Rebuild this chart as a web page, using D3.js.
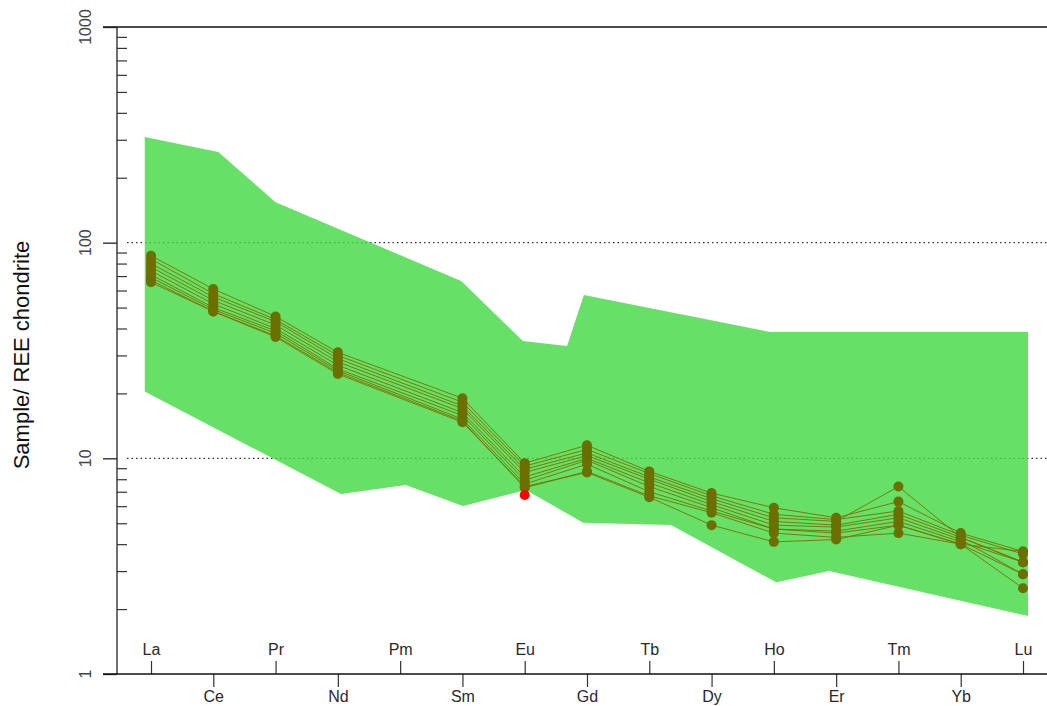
<!DOCTYPE html>
<html>
<head>
<meta charset="utf-8">
<script src="https://cdn.jsdelivr.net/npm/d3@7"></script>
<style>
  body { margin: 0; background: #fff; }
  svg { display: block; }
  text { font-family: "Liberation Sans", Arial, sans-serif; }
</style>
</head>
<body>
<svg id="chart" width="1047" height="706"></svg>
<script>
// Rare earth elements along the x axis (Pm is not analysed)
const elements = ["La","Ce","Pr","Nd","Pm","Sm","Eu","Gd","Tb","Dy","Ho","Er","Tm","Yb","Lu"];

// Chondrite-normalised REE patterns, one array per sample (null = not analysed)
const sample1 = [87.0, 61.0, 45.5, 31.0, null, 19.0, 9.5, 11.5, 8.7, 6.9, 5.9, 5.3, 6.3, 4.5, 3.7];
const sample2 = [84.0, 58.0, 44.0, 30.0, null, 18.2, 9.2, 11.0, 8.5, 6.7, 5.5, 5.2, 5.7, 4.4, 3.6];
const sample3 = [80.0, 56.0, 43.0, 29.0, null, 17.5, 8.9, 10.6, 8.2, 6.5, 5.3, 5.1, 7.4, 4.3, 3.3];
const sample4 = [77.0, 54.0, 41.5, 28.0, null, 17.0, 8.6, 10.3, 8.0, 6.3, 5.1, 4.9, 5.5, 4.3, 3.3];
const sample5 = [74.0, 52.0, 40.0, 27.0, null, 16.3, 8.2, 10.0, 7.7, 6.1, 4.9, 4.8, 5.3, 4.2, 2.9];
const sample6 = [71.0, 50.0, 39.0, 26.0, null, 15.8, 7.9, 9.8, 7.4, 5.9, 4.7, 4.6, 5.1, 4.1, 3.3];
const sample7 = [69.0, 49.0, 38.0, 25.5, null, 15.2, 7.6, 9.4, 7.0, 5.7, 4.7, 4.5, 4.9, 4.0, 2.5];
const sample8 = [67.0, 48.0, 37.0, 25.0, null, 14.9, 7.3, 8.7, 6.7, 5.6, 4.5, 4.3, 4.5, 4.0, 2.9];
const sample9 = [65.5, 48.0, 36.5, 24.6, null, 14.7, 7.4, 8.6, 6.6, 4.9, 4.1, 4.2, 4.9, 4.0, 3.7];
const samples = [sample1, sample2, sample3, sample4, sample5, sample6, sample7, sample8, sample9];

// Single highlighted analysis
const highlightElement = "Eu";
const highlightValue = 6.76;

// Reference field envelope (positions in element-index units)
const envelopeUpperPos = [-0.1, 1.08, 2.0, 4.98, 5.97, 6.68, 6.95, 9.94, 14.08];
const envelopeUpperVal = [309, 263, 154, 66.4, 35.0, 33.2, 57.2, 38.5, 38.5];
const envelopeLowerPos = [-0.1, 3.05, 4.09, 5.01, 6.02, 6.94, 8.35, 10.04, 10.89, 14.08];
const envelopeLowerVal = [20.4, 6.83, 7.52, 6.01, 7.13, 5.03, 4.91, 2.66, 3.00, 1.86];

// Axis ticks
const yMajorTicks = [1, 10, 100, 1000];
const yMinorTicks = [2,3,4,5,6,7,8,9,20,30,40,50,60,70,80,90,200,300,400,500,600,700,800,900];
const gridValues = [10, 100];

const svg = d3.select("#chart");
const x = d3.scaleLinear().domain([0, elements.length - 1]).range([151, 1023]);
const y = d3.scaleLog().domain([1, 1000]).range([674, 27]);
const left = 117, right = 1047, frameLeft = 103;

// Dotted guide lines
svg.append("g").selectAll("line").data(gridValues).join("line")
  .attr("x1", 127).attr("x2", right)
  .attr("y1", d => y(d)).attr("y2", d => y(d))
  .attr("stroke", "#333").attr("stroke-width", 1.2)
  .attr("stroke-dasharray", "1.5,3");

// Envelope polygon
const envPts = envelopeUpperPos.map((p, i) => [p, envelopeUpperVal[i]])
  .concat(envelopeLowerPos.map((p, i) => [p, envelopeLowerVal[i]]).reverse());
svg.append("path")
  .attr("d", d3.line().x(d => x(d[0])).y(d => y(d[1]))(envPts) + "Z")
  .attr("fill", "rgb(64,216,64)").attr("fill-opacity", 0.8);

// Sample patterns
const line = d3.line().x(d => x(d.i)).y(d => y(d.v));
const gS = svg.append("g");
samples.forEach(s => {
  const pts = s.map((v, i) => ({ i, v })).filter(d => d.v != null);
  gS.append("path").attr("d", line(pts))
    .attr("fill", "none").attr("stroke", "#7a7000").attr("stroke-width", 1)
    .attr("stroke-opacity", 0.9);
});
samples.forEach(s => {
  const pts = s.map((v, i) => ({ i, v })).filter(d => d.v != null);
  gS.append("g").selectAll("circle").data(pts).join("circle")
    .attr("cx", d => x(d.i)).attr("cy", d => y(d.v)).attr("r", 5)
    .attr("fill", "#6b7000");
});

// Highlighted point
svg.append("circle")
  .attr("cx", x(elements.indexOf(highlightElement)))
  .attr("cy", y(highlightValue)).attr("r", 5).attr("fill", "#ff0000");

// Frame lines
svg.append("line").attr("x1", frameLeft).attr("x2", right).attr("y1", y(1000)).attr("y2", y(1000))
  .attr("stroke", "#111").attr("stroke-width", 1.3);

// Y axis: major ticks outside, minor ticks inside
const yAxisMajor = d3.axisLeft(y).tickValues(yMajorTicks).tickSize(14).tickFormat("");
const gy = svg.append("g").attr("transform", `translate(${left},0)`).call(yAxisMajor);
gy.select(".domain").attr("stroke", "#222").attr("stroke-width", 1.3).attr("d", `M0,${y(1000)}V${y(1)}`);
gy.selectAll(".tick line").attr("stroke", "#222").attr("stroke-width", 1.3);

const gyMinor = svg.append("g").attr("transform", `translate(${left},0)`)
  .call(d3.axisRight(y).tickValues(yMinorTicks).tickSize(10).tickFormat(""));
gyMinor.select(".domain").remove();
gyMinor.selectAll(".tick line").attr("stroke", "#333").attr("stroke-width", 1.2);

svg.append("g").selectAll("text").data(yMajorTicks).join("text")
  .attr("transform", d => `translate(91,${y(d)}) rotate(-90)`)
  .attr("text-anchor", "middle")
  .attr("font-size", 16).attr("fill", "#444")
  .text(d => d);

// X axis: alternating labels above and below
const evenIdx = elements.map((e, i) => i).filter(i => i % 2 === 0);
const oddIdx = elements.map((e, i) => i).filter(i => i % 2 === 1);
const gxTop = svg.append("g").attr("transform", `translate(0,${y(1)})`)
  .call(d3.axisTop(x).tickValues(evenIdx).tickSize(13).tickPadding(6).tickFormat(i => elements[i]));
const gxBot = svg.append("g").attr("transform", `translate(0,${y(1)})`)
  .call(d3.axisBottom(x).tickValues(oddIdx).tickSize(13).tickPadding(4).tickFormat(i => elements[i]));
[gxTop, gxBot].forEach(g => {
  g.select(".domain").remove();
  g.selectAll(".tick line").attr("stroke", "#333").attr("stroke-width", 1.2);
  g.selectAll(".tick text").attr("font-size", 16).attr("fill", "#2a2a2a")
    .attr("font-family", "\"Liberation Sans\", Arial, sans-serif");
});
svg.append("line").attr("x1", frameLeft).attr("x2", right).attr("y1", y(1)).attr("y2", y(1))
  .attr("stroke", "#111").attr("stroke-width", 1.3);

// Y axis title
svg.append("text")
  .attr("transform", `translate(29,355) rotate(-90)`)
  .attr("text-anchor", "middle").attr("font-size", 22).attr("fill", "#111")
  .text("Sample/ REE chondrite");
</script>
</body>
</html>
